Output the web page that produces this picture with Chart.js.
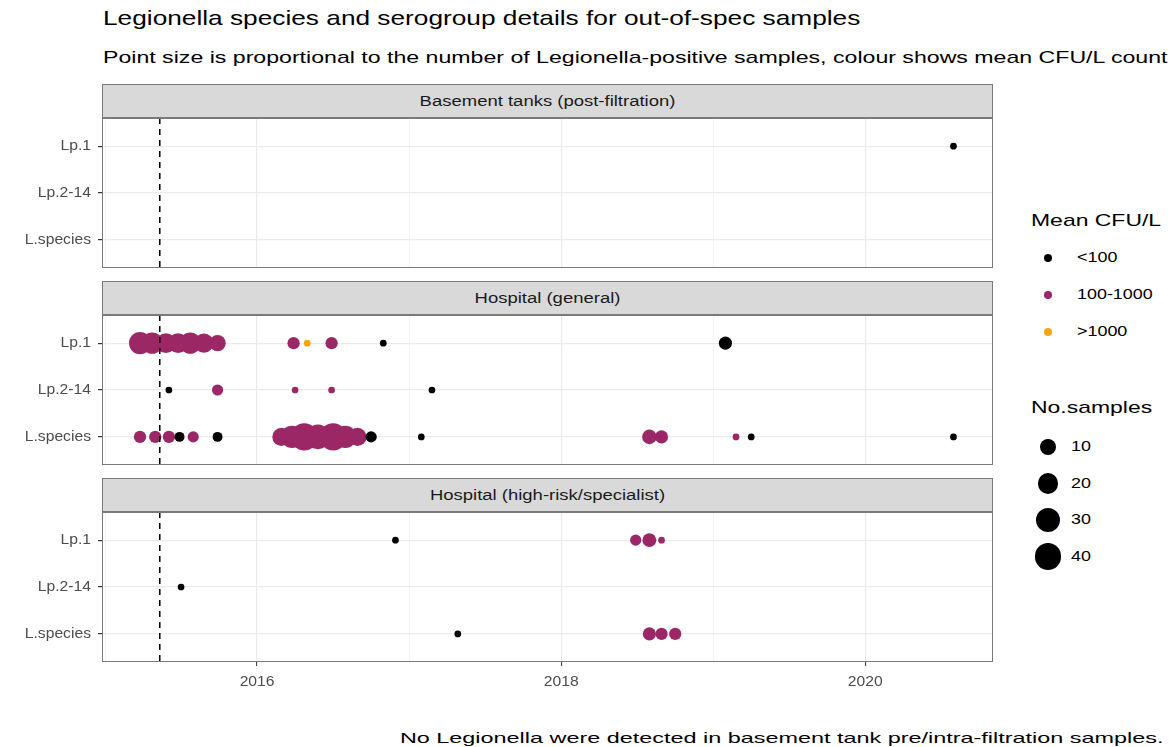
<!DOCTYPE html>
<html>
<head>
<meta charset="utf-8">
<script src="https://cdn.jsdelivr.net/npm/chart.js@4/dist/chart.umd.min.js"></script>
<style>
  body { margin: 0; background: #fff; font-family: "Liberation Sans", Arial, sans-serif; }
  #page { position: relative; width: 1173px; height: 747px; overflow: hidden; }
  .abs { position: absolute; white-space: nowrap; }
  .title { left: 103px; top: 6px; font-size: 21px; color: #000; transform: scaleX(1.25); transform-origin: left center; }
  .subtitle { left: 103px; top: 48px; font-size: 17px; color: #000; transform: scaleX(1.36); transform-origin: left center; }
  .strip { left: 102px; width: 889px; height: 32px; background: #d9d9d9; border: 1px solid #7a7a7a; }
  .strip span { position: absolute; left: 0; right: 0; text-align: center; line-height: 32px;
                font-size: 14px; color: #1a1a1a; transform: scaleX(1.32); }
  .panel { left: 0; }
  .legend-title { left: 1031px; font-size: 17px; color: #000; transform: scaleX(1.35); transform-origin: left center; }
  .legend-label { font-size: 14px; color: #000; transform: scaleX(1.28); transform-origin: left center; }
  .caption { right: 10px; top: 729px; font-size: 15px; color: #000; transform: scaleX(1.56); transform-origin: right center; }
</style>
</head>
<body>
<div id="page">
  <div class="abs title">Legionella species and serogroup details for out-of-spec samples</div>
  <div class="abs subtitle">Point size is proportional to the number of Legionella-positive samples, colour shows mean CFU/L count</div>
  <div id="facets"></div>
  <div id="legend"></div>
  <div class="abs caption">No Legionella were detected in basement tank pre/intra-filtration samples.</div>
</div>
<script>
const facets = ['Basement tanks (post-filtration)', 'Hospital (general)', 'Hospital (high-risk/specialist)'];
const groups = ['Lp.1', 'Lp.2-14', 'L.species'];
const cfuLevels = ['<100', '100-1000', '>1000'];
const cfuColours = ['#000000', '#9c2766', '#f7a416'];
const sizeBreaks = [10, 20, 30, 40];
const yearTicks = [2015, 2016, 2017, 2018, 2019, 2020];
const cutoffYear = 2015.36;

// one entry per plotted point (facet index, group, decimal year, samples, CFU class)
const pointFacet = [
  0,
  1, 1, 1, 1, 1, 1, 1, 1, 1, 1, 1, 1,
  1, 1, 1, 1, 1,
  1, 1, 1, 1, 1, 1, 1, 1, 1, 1, 1, 1, 1, 1, 1, 1, 1, 1, 1, 1,
  2, 2, 2, 2, 2, 2, 2, 2, 2
];
const pointGroup = [
  'Lp.1',
  'Lp.1', 'Lp.1', 'Lp.1', 'Lp.1', 'Lp.1', 'Lp.1', 'Lp.1', 'Lp.1', 'Lp.1', 'Lp.1', 'Lp.1', 'Lp.1',
  'Lp.2-14', 'Lp.2-14', 'Lp.2-14', 'Lp.2-14', 'Lp.2-14',
  'L.species', 'L.species', 'L.species', 'L.species', 'L.species', 'L.species', 'L.species', 'L.species',
  'L.species', 'L.species', 'L.species', 'L.species', 'L.species', 'L.species', 'L.species', 'L.species',
  'L.species', 'L.species', 'L.species', 'L.species',
  'Lp.1', 'Lp.1', 'Lp.1', 'Lp.1', 'Lp.2-14', 'L.species', 'L.species', 'L.species', 'L.species'
];
const pointYear = [
  2020.58,
  2015.23, 2015.31, 2015.40, 2015.48, 2015.56, 2015.65, 2015.74, 2016.24, 2016.33, 2016.49, 2016.83, 2019.08,
  2015.42, 2015.74, 2016.25, 2016.49, 2017.15,
  2015.23, 2015.33, 2015.42, 2015.49, 2015.58, 2015.74, 2016.16, 2016.23,
  2016.31, 2016.40, 2016.50, 2016.58, 2016.66, 2016.75, 2017.08, 2018.58,
  2018.66, 2019.15, 2019.25, 2020.58,
  2016.91, 2018.49, 2018.58, 2018.66, 2015.50, 2017.32, 2018.58, 2018.66, 2018.75
];
const pointCount = [
  1,
  24, 22, 18, 18, 22, 16, 10, 4, 1, 4, 1, 5,
  1, 3, 1, 1, 1,
  4, 4, 4, 2, 3, 2, 14, 25,
  42, 32, 42, 25, 14, 3, 1, 7,
  5, 1, 1, 1,
  1, 3, 6, 1, 1, 1, 5, 4, 4
];
const pointCfu = [
  '<100',
  '100-1000', '100-1000', '100-1000', '100-1000', '100-1000', '100-1000', '100-1000', '100-1000', '>1000', '100-1000', '<100', '<100',
  '<100', '100-1000', '100-1000', '100-1000', '<100',
  '100-1000', '100-1000', '100-1000', '<100', '100-1000', '<100', '100-1000', '100-1000',
  '100-1000', '100-1000', '100-1000', '100-1000', '100-1000', '<100', '<100', '100-1000',
  '100-1000', '100-1000', '<100', '<100',
  '<100', '100-1000', '100-1000', '100-1000', '<100', '<100', '100-1000', '100-1000', '100-1000'
];

const fontFamily = '"Liberation Sans", Arial, sans-serif';
const labelStretch = 1.12;
const panelLeft = 102, panelRight = 993, canvasWidth = 1000, panelHeight = 150;
const panelTops = [118, 315, 512];
const nMin = Math.min(...pointCount), nMax = Math.max(...pointCount);

// ggplot-like area scale: size 1..6 from sqrt of rescaled count
function pointDiameter(n) {
  const size = 1 + 5 * Math.sqrt(Math.max(0, (n - nMin) / (nMax - nMin)));
  return 2.6 + 4.1 * size;
}

function noPadding(s) {
  s.paddingTop = 0;
  s.paddingBottom = 0;
  s.paddingLeft = 0;
  s.paddingRight = 0;
}

// border box + dashed reference line, drawn over the points like the original
const panelExtras = {
  id: 'panelExtras',
  afterDatasetsDraw(chart) {
    const { ctx, chartArea: a } = chart;
    const px = chart.scales.x.getPixelForValue(cutoffYear);
    ctx.save();
    ctx.beginPath();
    ctx.rect(a.left, a.top, a.right - a.left, a.bottom - a.top);
    ctx.clip();
    ctx.setLineDash([6, 5]);
    ctx.lineWidth = 1.5;
    ctx.strokeStyle = '#000';
    ctx.beginPath();
    ctx.moveTo(px, a.top);
    ctx.lineTo(px, a.bottom);
    ctx.stroke();
    ctx.restore();
    ctx.save();
    ctx.strokeStyle = '#7a7a7a';
    ctx.lineWidth = 1;
    ctx.strokeRect(a.left + 0.5, a.top + 0.5, a.right - a.left - 1, a.bottom - a.top - 1);
    ctx.restore();
  }
};

// tick labels, placed from the chart's own scales
function tickLabels(withAxis) {
  const put = (ctx, text, x, y, align) => {
    ctx.save();
    ctx.translate(x, y);
    ctx.scale(labelStretch, 1);
    ctx.textAlign = align;
    ctx.fillText(text, 0, 0);
    ctx.restore();
  };
  return {
    id: 'tickLabels',
    afterDraw(chart) {
      const { ctx, chartArea: a, scales: { x, y } } = chart;
      ctx.save();
      ctx.fillStyle = '#4d4d4d';
      ctx.font = '14px ' + fontFamily;
      ctx.textBaseline = 'middle';
      y.ticks.forEach(t => put(ctx, groups[t.value - 1], a.left - 11, y.getPixelForValue(t.value), 'right'));
      if (withAxis) {
        x.ticks.filter(t => t.value % 2 === 0)
          .forEach(t => put(ctx, String(t.value), x.getPixelForValue(t.value), a.bottom + 20, 'center'));
      }
      ctx.restore();
    }
  };
}

function makePanel(f) {
  const withAxis = f === facets.length - 1;
  const holder = document.getElementById('facets');

  const strip = document.createElement('div');
  strip.className = 'abs strip';
  strip.style.top = (panelTops[f] - 34) + 'px';
  const label = document.createElement('span');
  label.textContent = facets[f];
  strip.appendChild(label);
  holder.appendChild(strip);

  const canvas = document.createElement('canvas');
  canvas.className = 'abs panel';
  canvas.width = canvasWidth;
  canvas.height = panelHeight + (withAxis ? 40 : 0);
  canvas.style.top = panelTops[f] + 'px';
  holder.appendChild(canvas);

  const idx = pointFacet.map((_, i) => i).filter(i => pointFacet[i] === f);

  new Chart(canvas, {
    type: 'scatter',
    data: {
      datasets: [{
        data: idx.map(i => ({ x: pointYear[i], y: groups.indexOf(pointGroup[i]) + 1 })),
        pointRadius: idx.map(i => pointDiameter(pointCount[i]) / 2),
        pointHoverRadius: idx.map(i => pointDiameter(pointCount[i]) / 2),
        backgroundColor: idx.map(i => cfuColours[cfuLevels.indexOf(pointCfu[i])]),
        borderWidth: 0
      }]
    },
    options: {
      responsive: false,
      animation: false,
      layout: { autoPadding: false, padding: { left: 0, right: canvasWidth - panelRight, top: 0, bottom: 0 } },
      plugins: { legend: { display: false }, tooltip: { enabled: false } },
      scales: {
        x: {
          type: 'linear',
          min: 2014.98,
          max: 2020.84,
          afterBuildTicks: s => { s.ticks = yearTicks.map(v => ({ value: v })); },
          afterFit: s => { s.height = withAxis ? 40 : 0; noPadding(s); },
          border: { display: false },
          grid: {
            color: '#ebebeb',
            lineWidth: c => (c.tick && c.tick.value % 2 === 0 ? 1.2 : 0.6),
            drawTicks: withAxis,
            tickLength: 4,
            tickWidth: 1,
            tickColor: c => (c.tick && c.tick.value % 2 === 0 ? '#333333' : 'rgba(0,0,0,0)')
          },
          ticks: { display: false }
        },
        y: {
          type: 'linear',
          min: 0.4,
          max: 3.6,
          reverse: true,
          afterBuildTicks: s => { s.ticks = groups.map((_, i) => ({ value: i + 1 })); },
          afterFit: s => { s.width = panelLeft; noPadding(s); },
          border: { display: false },
          grid: {
            color: '#ebebeb',
            lineWidth: 1.2,
            drawTicks: true,
            tickLength: 4,
            tickColor: '#333333'
          },
          ticks: { display: false }
        }
      }
    },
    plugins: [panelExtras, tickLabels(withAxis)]
  });
}

facets.forEach((_, f) => makePanel(f));

// legend
(function buildLegend() {
  const lg = document.getElementById('legend');
  const add = (cls, text, left, top) => {
    const d = document.createElement('div');
    d.className = 'abs ' + cls;
    d.textContent = text;
    d.style.left = left + 'px';
    d.style.top = top + 'px';
    lg.appendChild(d);
  };
  const dot = (cx, cy, diam, colour) => {
    const d = document.createElement('div');
    d.className = 'abs';
    d.style.left = (cx - diam / 2) + 'px';
    d.style.top = (cy - diam / 2) + 'px';
    d.style.width = diam + 'px';
    d.style.height = diam + 'px';
    d.style.borderRadius = '50%';
    d.style.background = colour;
    lg.appendChild(d);
  };
  add('legend-title', 'Mean CFU/L', 1031, 211);
  cfuLevels.forEach((lvl, i) => {
    const cy = 258 + i * 37;
    dot(1048, cy, 8, cfuColours[i]);
    add('legend-label', lvl, 1077, cy - 9);
  });
  add('legend-title', 'No.samples', 1031, 398);
  sizeBreaks.forEach((n, i) => {
    const cy = 447 + i * 36.5;
    dot(1048, cy, pointDiameter(n), '#000');
    add('legend-label', String(n), 1071, cy - 9);
  });
})();
</script>
</body>
</html>
